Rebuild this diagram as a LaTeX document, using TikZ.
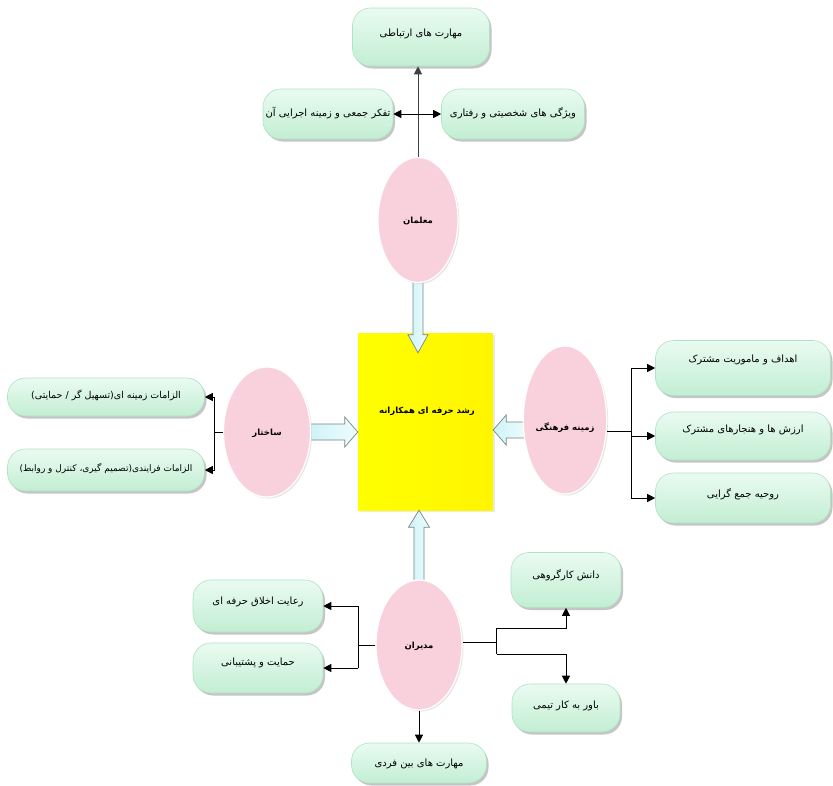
\documentclass[tikz,border=0pt]{standalone}
\usepackage{fontspec}
\TeXXeTstate=1
\newfontfamily\arabicfont[Script=Arabic]{DejaVu Sans}
\usetikzlibrary{shapes.geometric,shadows,arrows.meta,calc}
\newcommand{\fa}[2]{\raisebox{#1}[0pt][0pt]{\arabicfont #2}}
\definecolor{mintA}{HTML}{EAFBF1}
\definecolor{mintB}{HTML}{C2EED3}
\definecolor{mintL}{HTML}{B0E2C4}
\definecolor{pinkF}{HTML}{F9D1DD}
\definecolor{yel}{HTML}{FFFF00}
\definecolor{cyanA}{HTML}{CDF3F8}
\definecolor{cyanB}{HTML}{EEFCFD}
\definecolor{arrL}{HTML}{7A8585}
\pgfdeclarelayer{bg}
\pgfdeclarelayer{mid}
\pgfsetlayers{bg,mid,main}
\tikzset{
  box/.style={rectangle, rounded corners=18pt, draw=mintL, line width=0.6pt,
    top color=mintA, bottom color=mintB,
    drop shadow={shadow xshift=2pt, shadow yshift=-2.5pt, fill=black!45},
    font=\fontsize{10}{12}\selectfont, inner sep=1pt},
  ell/.style={ellipse, draw=white, line width=1.2pt, fill=pinkF,
    drop shadow={shadow xshift=1.5pt, shadow yshift=-1.5pt, fill=black!20},
    font=\fontsize{8.5}{11}\selectfont\bfseries, inner sep=0pt},
  core/.style={rectangle, draw=none, left color=yel, right color=yel!92!orange,
    drop shadow={shadow xshift=1.5pt, shadow yshift=-1.5pt, fill=black!15}},
  blk/.style={draw=arrL, line width=0.7pt, left color=cyanA, right color=cyanB, line join=miter},
  con/.style={draw=black, line width=1pt},
  arr/.style={con, -{Triangle[length=8pt,width=8pt]}},
  darr/.style={con, {Triangle[length=8pt,width=8pt]}-{Triangle[length=8pt,width=8pt]}},
}
\begin{document}
\begin{tikzpicture}[x=1pt,y=-1pt]
\useasboundingbox (0,0) rectangle (833,785);
\begin{pgfonlayer}{bg}
\fill[white] (0,0) rectangle (833,785);
\node[core, minimum width=135pt, minimum height=177pt] (c) at (425.5,421.5) {};
\end{pgfonlayer}
\node[font=\fontsize{8.5}{11}\selectfont\bfseries] (ct) at (427,410) {\fa{-3pt}{\beginR رشد حرفه ای همکارانه\endR}};

% top group
\node[box, minimum width=137pt, minimum height=58pt] (mt) at (421,37) {\fa{1pt}{\beginR مهارت های ارتباطی\endR}};
\node[box, minimum width=130pt, minimum height=50pt] (tl) at (328,114) {\fa{-2pt}{\beginR تفکر جمعی و زمینه اجرایی آن\endR}};
\node[box, minimum width=143pt, minimum height=50pt] (tr) at (513,114) {\fa{-2pt}{\beginR ویژگی های شخصیتی و رفتاری\endR}};
\node[ell, minimum width=80pt, minimum height=125pt] (e1) at (418,220) {\fa{-3pt}{\beginR معلمان\endR}};

% left group
\node[ell, minimum width=87pt, minimum height=130pt] (e2) at (267,432) {\fa{-3pt}{\beginR ساختار\endR}};
\node[box, minimum width=197pt, minimum height=38pt, font=\fontsize{9.5}{11}\selectfont] (l1) at (106,397) {\fa{-1pt}{\beginR الزامات زمینه ای(تسهیل گر / حمایتی)\endR}};
\node[box, minimum width=197pt, minimum height=42pt, font=\fontsize{9}{11}\selectfont] (l2) at (106,470) {\fa{-1pt}{\beginR الزامات فرایندی(تصمیم گیری، کنترل و روابط)\endR}};

% right group
\node[ell, minimum width=82pt, minimum height=148pt] (e3) at (565,420) {\fa{-10pt}{\beginR زمینه فرهنگی\endR}};
\node[box, minimum width=175pt, minimum height=55pt] (r1) at (743,368) {\fa{6pt}{\beginR اهداف و ماموریت مشترک\endR}};
\node[box, minimum width=175pt, minimum height=48pt] (r2) at (743,436) {\fa{4pt}{\beginR ارزش ها و هنجارهای مشترک\endR}};
\node[box, minimum width=175pt, minimum height=50pt] (r3) at (743,498) {\fa{1pt}{\beginR روحیه جمع گرایی\endR}};

% bottom group
\node[ell, minimum width=86pt, minimum height=130pt] (e4) at (419,645) {\fa{-3pt}{\beginR مدیران\endR}};
\node[box, minimum width=130pt, minimum height=52pt] (bl1) at (258,606) {\fa{2pt}{\beginR رعایت اخلاق حرفه ای\endR}};
\node[box, minimum width=130pt, minimum height=50pt] (bl2) at (258,668) {\fa{3pt}{\beginR حمایت و پشتیبانی\endR}};
\node[box, minimum width=110pt, minimum height=55pt] (br1) at (566,580) {\fa{2pt}{\beginR دانش کارگروهی\endR}};
\node[box, minimum width=108pt, minimum height=48pt] (br2) at (566,708) {\fa{0pt}{\beginR باور به کار تیمی\endR}};
\node[box, minimum width=135pt, minimum height=40pt] (bm) at (419,763) {\fa{-3pt}{\beginR مهارت های بین فردی\endR}};

% block arrows
\begin{pgfonlayer}{mid}
% down: e1 -> c
\coordinate (a1) at ($(e1.south)+(0,-3)$);
\coordinate (b1) at ($(e1.south |- c.north)+(0,20)$);
\path[blk] ($(a1)+(-5,0)$) -- ($(b1)+(-5,-18)$) -- ($(b1)+(-10,-18)$) -- (b1)
  -- ($(b1)+(10,-18)$) -- ($(b1)+(5,-18)$) -- ($(a1)+(5,0)$) -- cycle;
% up: e4 -> c
\coordinate (a4) at ($(e4.north)+(0,3)$);
\coordinate (b4) at (e4.north |- c.south);
\path[blk] ($(a4)+(-5,0)$) -- ($(b4)+(-5,17)$) -- ($(b4)+(-10.5,17)$) -- (b4)
  -- ($(b4)+(10.5,17)$) -- ($(b4)+(5,17)$) -- ($(a4)+(5,0)$) -- cycle;
% right: e2 -> c
\coordinate (a2) at ($(e2.east)+(-3,0)$);
\coordinate (b2) at (e2.east -| c.west);
\path[blk] ($(a2)+(0,-8)$) -- ($(b2)+(-13,-8)$) -- ($(b2)+(-13,-15)$) -- (b2)
  -- ($(b2)+(-13,15)$) -- ($(b2)+(-13,8)$) -- ($(a2)+(0,8)$) -- cycle;
% left: e3 -> c
\coordinate (a3) at ($(e3.west)+(4,10)$);
\coordinate (b3) at (a3 -| c.east);
\path[blk] ($(a3)+(0,-8)$) -- ($(b3)+(13,-8)$) -- ($(b3)+(13,-15)$) -- (b3)
  -- ($(b3)+(13,15)$) -- ($(b3)+(13,8)$) -- ($(a3)+(0,8)$) -- cycle;
\end{pgfonlayer}

% connectors top
\draw[arr, draw=black!75] (e1.north) -- (e1.north |- mt.south);
\draw[darr] (tl.east) -- (tr.west);

% connectors left
\coordinate (j2) at ($(e2.west)+(-8,0)$);
\draw[con] (e2.west) -- (j2);
\draw[con] (j2 |- l1.east) -- (j2 |- l2.east);
\draw[arr] (j2 |- l1.east) -- (l1.east);
\draw[arr] (j2 |- l2.east) -- (l2.east);

% connectors right
\coordinate (j3) at ($(e3.east)+(24,11)$);
\draw[con] (e3.east |- j3) -- (j3);
\draw[con] (j3 |- r1.west) -- (j3 |- r3.west);
\draw[arr] (j3 |- r1.west) -- (r1.west);
\draw[arr] (j3 |- r2.west) -- (r2.west);
\draw[arr] (j3 |- r3.west) -- (r3.west);

% connectors bottom left
\coordinate (j4) at ($(e4.west)+(-17,0)$);
\draw[con] (e4.west) -- (j4);
\draw[con] (j4 |- bl1.east) -- (j4 |- bl2.east);
\draw[arr] (j4 |- bl1.east) -- (bl1.east);
\draw[arr] (j4 |- bl2.east) -- (bl2.east);

% connectors bottom right
\coordinate (j5) at ($(e4.east)+(34,-3)$);
\coordinate (u5) at ($(j5)+(0,-14)$);
\coordinate (d5) at ($(j5)+(0,12)$);
\draw[con] (e4.east |- j5) -- (j5);
\draw[con] (u5) -- (d5);
\draw[arr] (u5) -| (br1.south);
\draw[arr] (d5) -| (br2.north);

% bottom
\draw[arr] (e4.south) -- (e4.south |- bm.north);
\end{tikzpicture}
\end{document}
